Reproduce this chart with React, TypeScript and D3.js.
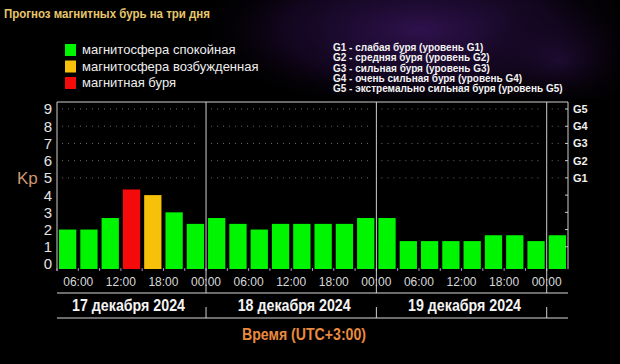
import React from "react";
import * as d3 from "d3";

// Kp forecast, one value per 3 hours, starting 17 Dec 2024 03:00 (UTC+3)
const kpValues = [
  2, 2, 2.67, 4.33, 4, 3, 2.33,
  2.67, 2.33, 2, 2.33, 2.33, 2.33, 2.33, 2.67,
  2.67, 1.33, 1.33, 1.33, 1.33, 1.67, 1.67, 1.33,
  1.67,
];
const kpLevels = [
  "quiet", "quiet", "quiet", "storm", "active", "quiet", "quiet",
  "quiet", "quiet", "quiet", "quiet", "quiet", "quiet", "quiet", "quiet",
  "quiet", "quiet", "quiet", "quiet", "quiet", "quiet", "quiet", "quiet",
  "quiet",
];
const dayLabels = ["17 декабря 2024", "18 декабря 2024", "19 декабря 2024"];
const kpTicks = [0, 1, 2, 3, 4, 5, 6, 7, 8, 9];
const gTicks = ["G1", "G2", "G3", "G4", "G5"];
const gLegend = [
  "G1 - слабая буря (уровень G1)",
  "G2 - средняя буря (уровень G2)",
  "G3 - сильная буря (уровень G3)",
  "G4 - очень сильная буря (уровень G4)",
  "G5 - экстремально сильная буря (уровень G5)",
];
const legendItems = [
  { key: "quiet", label: "магнитосфера спокойная" },
  { key: "active", label: "магнитосфера возбужденная" },
  { key: "storm", label: "магнитная буря" },
];

const colors: Record<string, string> = {
  quiet: "#00f500",
  active: "#f7c10a",
  storm: "#f40a0a",
};

const W = 620;
const H = 364;
const left = 57;
const right = 568;
const top = 102;
const bottom = 269;
const HOUR = 3600 * 1000;

export default function App() {
  const t0 = new Date(Date.UTC(2024, 11, 17, 3));
  const t1 = new Date(t0.getTime() + kpValues.length * 3 * HOUR);
  const x = d3.scaleUtc().domain([t0, t1]).range([left, right]);
  const y = d3.scaleLinear().domain([0, 9]).range([264, 109]);

  const slots = kpValues.map((v, i) => ({
    v,
    level: kpLevels[i],
    a: new Date(t0.getTime() + i * 3 * HOUR),
    b: new Date(t0.getTime() + (i + 1) * 3 * HOUR),
  }));
  const timeTicks = x.ticks(d3.utcHour.every(6)!).filter((d) => d > t0 && d < t1);
  const slotTicks = d3.utcHour.every(3)!.range(t0, t1);
  const dayBounds = d3.utcDay.range(t0, t1); // midnights
  const segs = [t0, ...dayBounds, t1];
  const fmt = d3.utcFormat("%H:%M");

  const pad = 2;

  return (
    <svg
      width={W}
      height={H}
      style={{ position: "fixed", left: 0, top: 0, background: "#000" }}
      fontFamily="'Liberation Sans', Arial, sans-serif"
    >
      <defs>
        <radialGradient id="glow" cx="0.5" cy="0.5" r="0.5">
          <stop offset="0%" stopColor="#3a1660" stopOpacity={0.8} />
          <stop offset="60%" stopColor="#240c3c" stopOpacity={0.5} />
          <stop offset="100%" stopColor="#000" stopOpacity={0} />
        </radialGradient>
        <radialGradient id="glow2" cx="0.5" cy="0.5" r="0.5">
          <stop offset="0%" stopColor="#2c1048" stopOpacity={0.6} />
          <stop offset="100%" stopColor="#000" stopOpacity={0} />
        </radialGradient>
      </defs>
      <rect width={W} height={H} fill="#000" />
      <ellipse cx={420} cy={30} rx={230} ry={85} fill="url(#glow)" />
      <ellipse cx={560} cy={60} rx={90} ry={60} fill="url(#glow2)" />
      <rect x={0} y={98} width={W} height={H - 98} fill="#000" />

      {/* title */}
      <text x={4} y={18} fill="#e8c66c" fontWeight="bold" fontSize={13} textLength={206} lengthAdjust="spacingAndGlyphs">
        Прогноз магнитных бурь на три дня
      </text>

      {/* legend */}
      {legendItems.map((d, i) => (
        <g key={d.key} transform={`translate(65,${44 + i * 16.5})`}>
          <rect width={11} height={12} fill={colors[d.key]} />
          <text x={17} y={10} fill="#eee" fontSize={13}>
            {d.label}
          </text>
        </g>
      ))}
      {gLegend.map((t, i) => (
        <text key={t} x={333} y={51 + i * 10.3} fill="#f2f2f2" fontSize={10} fontWeight="bold">
          {t}
        </text>
      ))}

      {/* dotted grid */}
      {[5, 6, 7, 8, 9].map((k) =>
        segs.slice(0, -1).map((s, j) => (
          <line
            key={`${k}-${j}`}
            x1={x(s) + 5}
            x2={x(segs[j + 1]) - 7}
            y1={y(k)}
            y2={y(k)}
            stroke="#6a6a6a"
            strokeDasharray="1,5"
          />
        ))
      )}

      {/* bars */}
      {slots.map((d, i) => (
        <rect
          key={i}
          x={x(d.a) + pad}
          width={x(d.b) - x(d.a) - 2 * pad}
          y={y(d.v)}
          height={bottom - y(d.v)}
          fill={colors[d.level]}
        />
      ))}

      {/* frame */}
      <line x1={left} x2={right} y1={top} y2={top} stroke="#cfcfcf" />
      <line x1={left} x2={left} y1={top} y2={bottom + 2} stroke="#cfcfcf" />
      <line x1={right} x2={right} y1={top} y2={bottom} stroke="#cfcfcf" />
      {slotTicks.map((t) => (
        <line key={+t} x1={x(t)} x2={x(t)} y1={bottom - 1} y2={bottom + 2} stroke="#a58ac8" />
      ))}
      {d3.range(1, 10).map((k) => (
        <line key={k} x1={right - 3} x2={right} y1={y(k)} y2={y(k)} stroke="#cfcfcf" />
      ))}

      {/* day separators */}
      {dayBounds.map((t) => (
        <g key={+t}>
          <line x1={x(t)} x2={x(t)} y1={top} y2={293} stroke="#cfcfcf" />
          <line x1={x(t)} x2={x(t)} y1={307} y2={318} stroke="#cfcfcf" />
        </g>
      ))}

      {/* y axis labels */}
      {kpTicks.map((k) => (
        <text key={k} x={52} y={y(k)} dy="0.36em" textAnchor="end" fill="#e2e2e2" fontSize={15}>
          {k}
        </text>
      ))}
      <text x={17} y={184} fill="#cf9670" fontSize={17}>
        Kp
      </text>
      {gTicks.map((g, i) => (
        <text key={g} x={573} y={y(5 + i)} dy="0.36em" fill="#f0f0f0" fontSize={11} fontWeight="bold">
          {g}
        </text>
      ))}

      {/* time labels */}
      {timeTicks.map((t) => (
        <text key={+t} x={x(t)} y={286} textAnchor="middle" fill="#d8d8d8" fontSize={12}>
          {fmt(t)}
        </text>
      ))}

      {/* date rows */}
      <line x1={left} x2={right} y1={293} y2={293} stroke="#d8d8d8" />
      <line x1={left} x2={right} y1={318} y2={318} stroke="#d8d8d8" />
      {dayLabels.map((d, i) => (
        <text
          key={d}
          x={(x(segs[i]) + x(segs[i + 1])) / 2 + (i === 0 ? -3 : 3)}
          y={311}
          textAnchor="middle"
          fill="#f4f4f4"
          fontWeight="bold"
          fontSize={17}
          textLength={113}
          lengthAdjust="spacingAndGlyphs"
        >
          {d}
        </text>
      ))}
      <text
        x={304}
        y={340}
        textAnchor="middle"
        fill="#ea8a3e"
        fontWeight="bold"
        fontSize={16}
        textLength={124}
        lengthAdjust="spacingAndGlyphs"
      >
        Время (UTC+3:00)
      </text>
    </svg>
  );
}
